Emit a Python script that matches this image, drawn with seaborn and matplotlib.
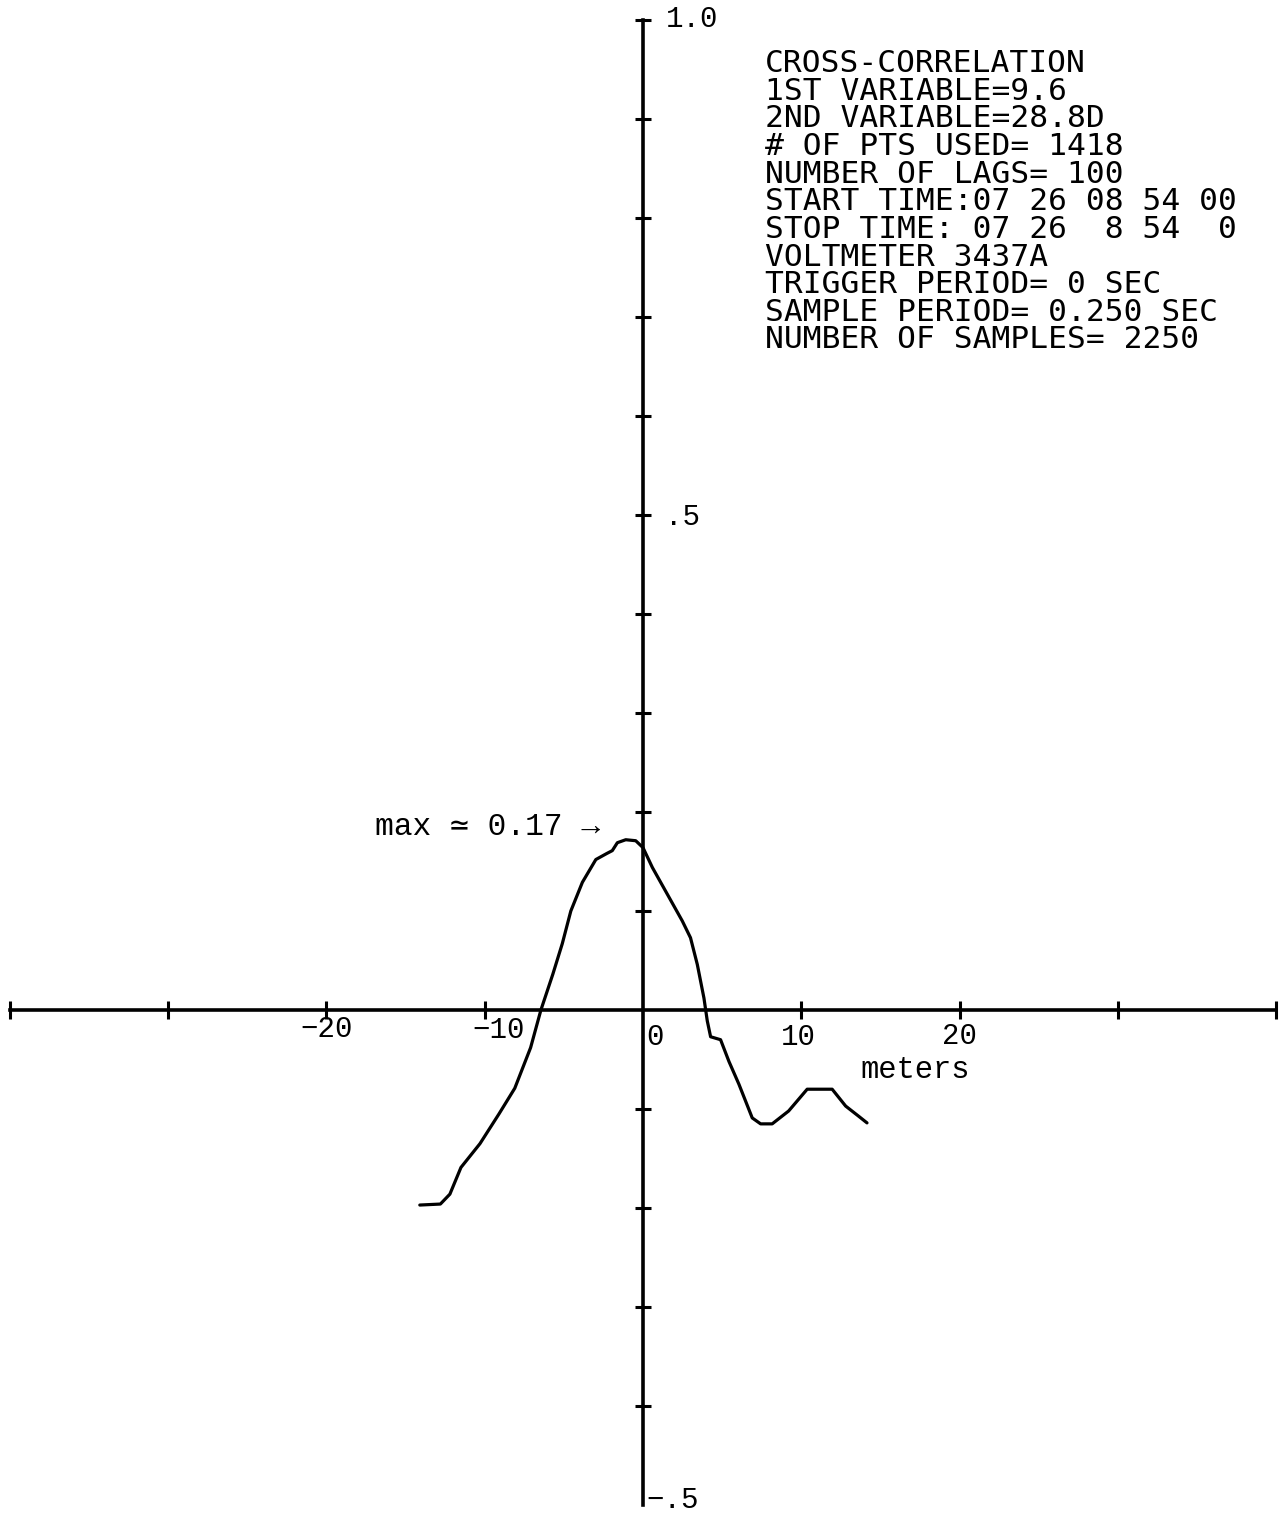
import matplotlib
matplotlib.use("Agg")
import matplotlib.pyplot as plt
import numpy as np
import pandas as pd
import seaborn as sns

# ---------------- data ----------------
lag_m = [-14.1, -12.8, -12.2, -11.5, -10.3, -9.1, -8.1, -7.1, -6.45, -5.7,
         -5.1, -4.56, -3.83, -2.98, -2.3, -1.94, -1.62, -1.09, -0.46, 0.0, 0.59,
         1.43, 2.48, 3.0, 3.43, 3.85, 4.06, 4.27, 4.9, 5.43, 6.06,
         6.9, 7.43, 8.16, 9.2, 10.37, 11.95, 12.8, 13.6, 14.15]
corr = [-0.197, -0.196, -0.186, -0.159, -0.135, -0.105, -0.079, -0.038, 0.0, 0.036,
        0.067, 0.100, 0.129, 0.152, 0.158, 0.161, 0.169, 0.172, 0.171, 0.164, 0.144,
        0.120, 0.090, 0.073, 0.046, 0.012, -0.011, -0.027, -0.030, -0.052, -0.075,
        -0.109, -0.115, -0.115, -0.102, -0.080, -0.080, -0.097, -0.107, -0.114]

x_ticks = [-40, -30, -20, -10, 10, 20, 30, 40]
y_ticks = [-0.4, -0.3, -0.2, -0.1, 0.1, 0.2, 0.3, 0.4, 0.5, 0.6, 0.7, 0.8, 0.9, 1.0]
x_label_values = [-20, -10, 0, 10, 20]
x_label_texts = ["\u221220", "\u221210", "0", "10", "20"]
y_label_values = [1.0, 0.5, -0.5]
y_label_texts = ["1.0", ".5", "\u2212.5"]

info_lines = [
    "CROSS-CORRELATION",
    "1ST VARIABLE=9.6",
    "2ND VARIABLE=28.8D",
    "# OF PTS USED= 1418",
    "NUMBER OF LAGS= 100",
    "START TIME:07 26 08 54 00",
    "STOP TIME: 07 26  8 54  0",
    "VOLTMETER 3437A",
    "TRIGGER PERIOD= 0 SEC",
    "SAMPLE PERIOD= 0.250 SEC",
    "NUMBER OF SAMPLES= 2250",
]
max_note = "max \u2243 0.17 \u2192"
x_unit = "meters"

# ---------------- figure ----------------
sns.set_style("white")
plt.rcParams["font.family"] = ["Liberation Mono", "DejaVu Sans Mono", "DejaVu Sans"]

W, H = 1280, 1517
fig = plt.figure(figsize=(W / 100, H / 100), dpi=100)
fig.patch.set_facecolor("white")
ax = fig.add_axes([0, 0, 1, 1])
ax.set_facecolor("white")

df = pd.DataFrame({"lag": lag_m, "corr": corr})
sns.lineplot(data=df, x="lag", y="corr", ax=ax, color="black", lw=2.3,
             estimator=None, sort=False)
for ln in ax.lines:
    ln.set_solid_joinstyle("round")
    ln.set_solid_capstyle("round")

ax.set_xlim(-40.62, 40.24)
ax.set_ylim(-0.5121, 1.0202)
ax.set_xlabel("")
ax.set_ylabel("")

for s in ["top", "right"]:
    ax.spines[s].set_visible(False)
ax.spines["left"].set_position(("data", 0))
ax.spines["bottom"].set_position(("data", 0))
ax.spines["left"].set_bounds(-0.5, 1.0)
ax.spines["bottom"].set_bounds(-40, 40)
for s in ["left", "bottom"]:
    ax.spines[s].set_linewidth(2.6)
    ax.spines[s].set_color("black")

ax.set_xticks(x_ticks)
ax.set_yticks(y_ticks)
ax.tick_params(axis="x", which="major", bottom=True, top=False, direction="inout",
               length=13, width=2.2, color="black", labelbottom=False)
ax.tick_params(axis="y", which="major", left=True, right=False, direction="inout",
               length=12, width=2.2, color="black", labelleft=False)

mono = ["Liberation Mono", "DejaVu Sans Mono", "DejaVu Sans"]

# x tick labels (typed by hand in the original: small individual offsets)
x_off = {-20: 0.0, -10: 0.9, 0: 0.75, 10: -0.2, 20: 0.0}
x_base = {-20: -0.0273, -10: -0.0283, 0: -0.0353, 10: -0.0353, 20: -0.0343}
for v, t in zip(x_label_values, x_label_texts):
    ax.text(v + x_off[v], x_base[v], t, ha="center", va="baseline",
            fontsize=21, family=mono, color="black")

# y tick labels (to the right of the axis)
y_pos = {1.0: (1.45, 0.993), 0.5: (1.4, 0.4899), -0.5: (0.2, -0.5035)}
for v, t in zip(y_label_values, y_label_texts):
    x0, y0 = y_pos[v]
    ax.text(x0, y0, t, ha="left", va="baseline", fontsize=21, family=mono,
            color="black", clip_on=False)

ax.text(17.18, -0.0687, x_unit, ha="center", va="baseline", fontsize=22,
        family=mono, color="black")
ax.text(-16.93, 0.1768, max_note, ha="left", va="baseline", fontsize=22.5,
        family=mono, color="black")

# information block (plotter text)
for i, line in enumerate(info_lines):
    py = 72 + 27.65 * i
    fig.text(765 / W, 1 - py / H, line, ha="left", va="baseline",
             fontsize=22.5, family=["DejaVu Sans Mono", "DejaVu Sans"],
             color="black")

fig.savefig("out.png", dpi=100, facecolor="white")
